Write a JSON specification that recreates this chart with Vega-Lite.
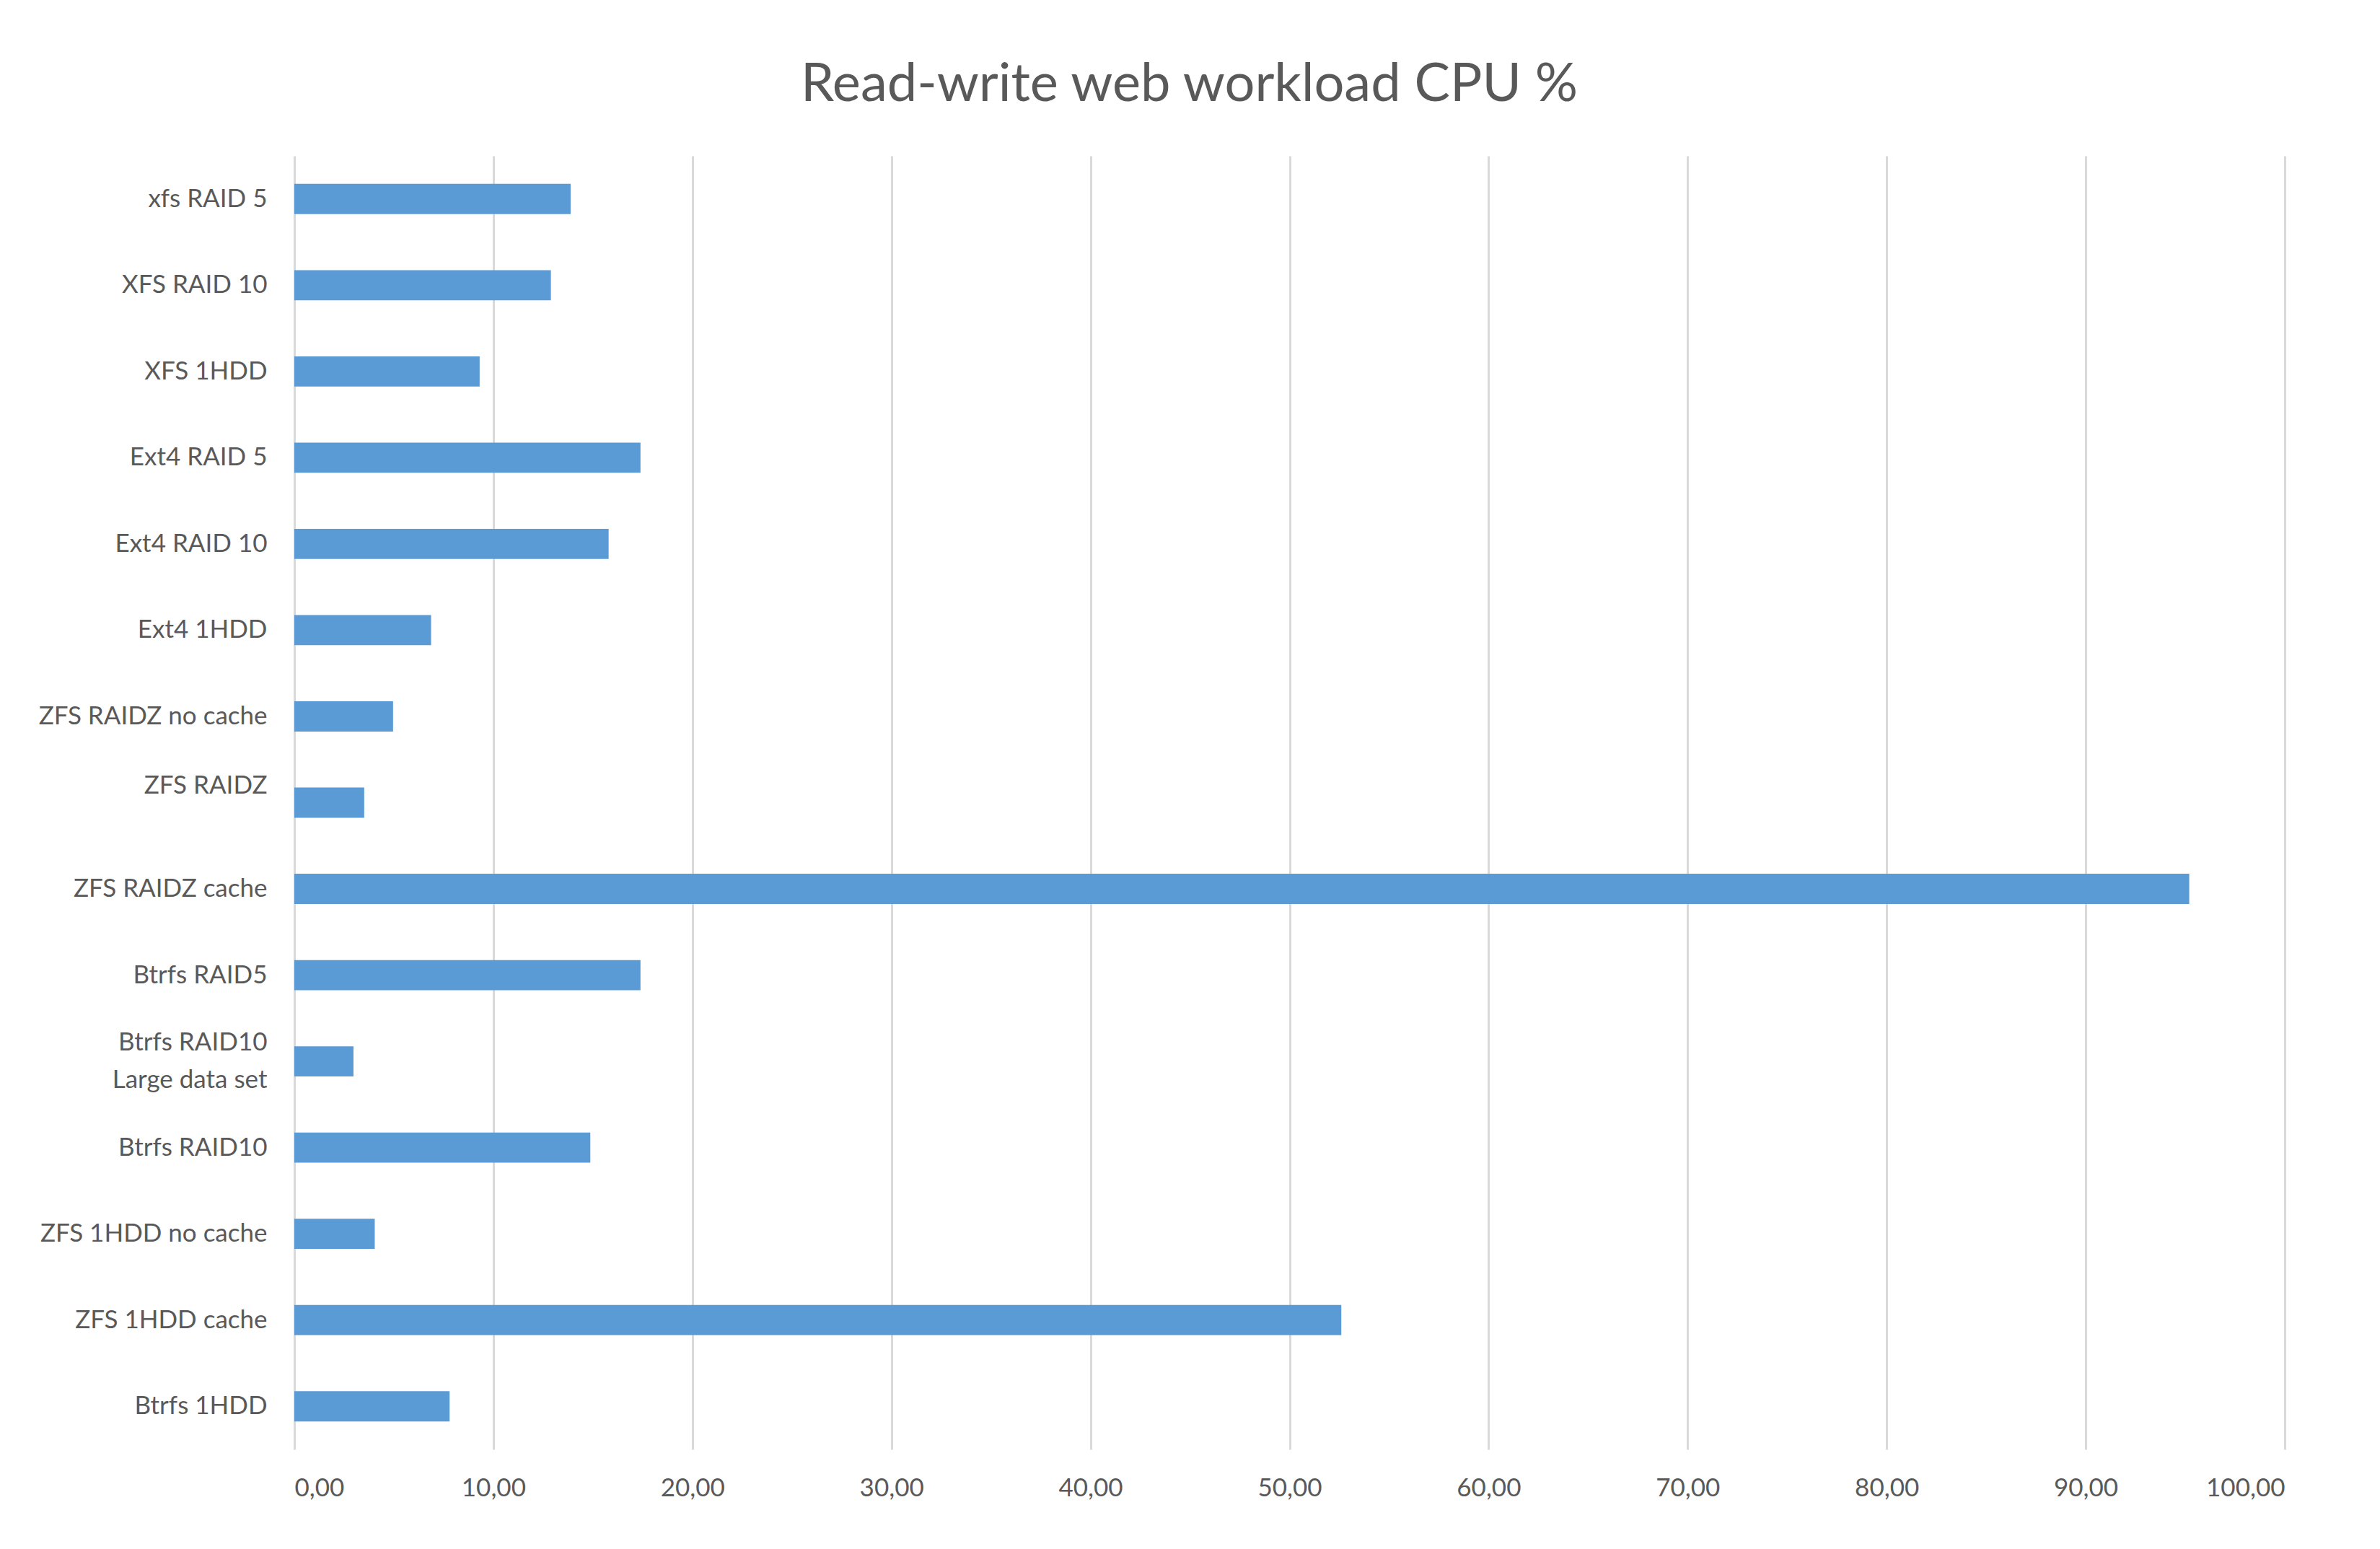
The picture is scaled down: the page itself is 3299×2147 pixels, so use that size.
{
  "$schema": "https://vega.github.io/schema/vega-lite/v6.json",
  "autosize": {"type": "none"},
  "width": 2759,
  "height": 1793,
  "padding": {"left": 408, "top": 216, "right": 132, "bottom": 138},
  "background": "white",
  "title": {
    "text": "Read-write web workload CPU %",
    "font": "Lato",
    "fontSize": 74,
    "fontWeight": "normal",
    "color": "#595959",
    "anchor": "middle",
    "dx": -139,
    "offset": 60
  },
  "data": {
    "values": [
      {"config": "xfs  RAID 5", "cpu": 13.88},
      {"config": "XFS  RAID 10", "cpu": 12.89},
      {"config": "XFS 1HDD", "cpu": 9.31},
      {"config": "Ext4  RAID 5", "cpu": 17.39},
      {"config": "Ext4  RAID 10", "cpu": 15.79},
      {"config": "Ext4 1HDD", "cpu": 6.87},
      {"config": "ZFS RAIDZ no cache", "cpu": 4.96},
      {"config": "ZFS RAIDZ", "cpu": 3.51},
      {"config": "ZFS RAIDZ cache", "cpu": 95.2},
      {"config": "Btrfs RAID5", "cpu": 17.39},
      {"config": "Btrfs RAID10 Large data set", "cpu": 2.97},
      {"config": "Btrfs RAID10", "cpu": 14.87},
      {"config": "ZFS 1HDD no cache", "cpu": 4.04},
      {"config": "ZFS 1HDD cache", "cpu": 52.6},
      {"config": "Btrfs 1HDD", "cpu": 7.8}
    ]
  },
  "mark": {"type": "bar", "color": "#5B9BD5"},
  "encoding": {
    "y": {
      "field": "config",
      "type": "nominal",
      "sort": null,
      "scale": {"paddingInner": 0.65, "paddingOuter": 0.325},
      "axis": {
        "title": null,
        "domain": false,
        "ticks": false,
        "labelFont": "Lato",
        "labelFontSize": 35,
        "labelColor": "#595959",
        "labelPadding": 38,
        "labelLimit": 600,
        "labelExpr": "datum.label == 'Btrfs RAID10 Large data set' ? ['Btrfs RAID10', 'Large data set'] : datum.label",
        "labelLineHeight": 52,
        "labelOffset": {
          "condition": [
            {"test": "datum.value == 'Btrfs RAID10 Large data set'", "value": -26},
            {"test": "datum.value == 'ZFS RAIDZ'", "value": -24}
          ],
          "value": 0
        }
      }
    },
    "x": {
      "field": "cpu",
      "type": "quantitative",
      "scale": {"domain": [0, 100], "nice": false},
      "axis": {
        "title": null,
        "values": [0, 10, 20, 30, 40, 50, 60, 70, 80, 90, 100],
        "labelExpr": "replace(format(datum.value, '.2f'), '.', ',')",
        "domain": false,
        "ticks": false,
        "grid": true,
        "gridColor": "#D9D9D9",
        "gridWidth": 3,
        "labelFont": "Lato",
        "labelFontSize": 35,
        "labelColor": "#595959",
        "labelPadding": 36
      }
    }
  },
  "config": {"view": {"stroke": null}}
}
